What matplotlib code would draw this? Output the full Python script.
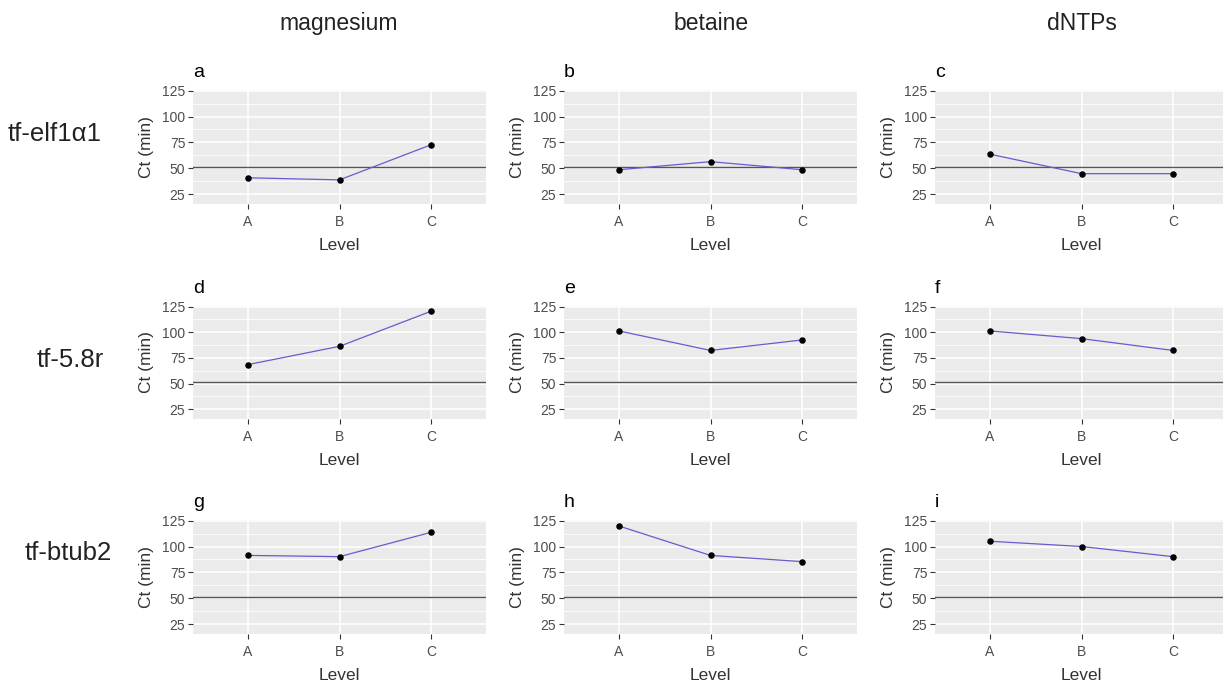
import matplotlib
matplotlib.use("Agg")
import matplotlib.pyplot as plt
from matplotlib import font_manager
from matplotlib.ticker import MultipleLocator

# ---------------- data ----------------
levels = ["A", "B", "C"]
factors = ["magnesium", "betaine", "dNTPs"]
genes = ["tf-elf1α1", "tf-5.8r", "tf-btub2"]
panel_letters = ["a", "b", "c", "d", "e", "f", "g", "h", "i"]

elf_magnesium = [40.8, 38.8, 72.7]
elf_betaine = [48.6, 56.4, 48.6]
elf_dntps = [63.6, 44.8, 44.8]

r58_magnesium = [68.5, 86.3, 120.5]
r58_betaine = [101.3, 82.3, 92.5]
r58_dntps = [101.3, 93.8, 82.3]

btub_magnesium = [91.4, 90.2, 113.7]
btub_betaine = [119.8, 91.4, 85.4]
btub_dntps = [105.1, 100.0, 90.2]

threshold = 51.5
y_ticks = [25, 50, 75, 100, 125]

grid_values = [
    [elf_magnesium, elf_betaine, elf_dntps],
    [r58_magnesium, r58_betaine, r58_dntps],
    [btub_magnesium, btub_betaine, btub_dntps],
]

# ---------------- fonts ----------------
available = {f.name for f in font_manager.fontManager.ttflist}
base_font = "Liberation Sans" if "Liberation Sans" in available else "DejaVu Sans"
plt.rcParams["font.family"] = [base_font, "DejaVu Sans"]

W, H = 1223, 684
fig = plt.figure(figsize=(W / 100, H / 100), dpi=100)
fig.patch.set_facecolor("white")

col_left = [193, 564, 935]
row_top = [90, 306, 520]
row_bot = [204, 419, 634]
pw = 293

line_color = "#6A5ACD"

for r in range(3):
    for c in range(3):
        left = col_left[c]
        top = row_top[r]
        bot = row_bot[r]
        ax = fig.add_axes([left / W, 1 - bot / H, pw / W, (bot - top) / H])
        ax.set_facecolor("#EBEBEB")
        for s in ax.spines.values():
            s.set_visible(False)
        xs = list(range(1, len(levels) + 1))
        ax.set_xlim(0.4, 3.6)
        ax.set_ylim(15.5, 125.6)
        ax.set_xticks(xs)
        ax.set_xticklabels(levels)
        ax.set_yticks(y_ticks)
        ax.yaxis.set_minor_locator(MultipleLocator(12.5))
        ax.grid(True, which="major", color="white", linewidth=1.1)
        ax.grid(True, which="minor", axis="y", color="white", linewidth=0.6)
        ax.set_axisbelow(True)
        ax.tick_params(which="major", length=3.5, width=0.8, color="#333333",
                       labelcolor="#4D4D4D", labelsize=10)
        ax.tick_params(axis="x", which="major", pad=4.5)
        ax.tick_params(axis="y", which="major", pad=2)
        ax.tick_params(which="minor", length=0)
        ax.axhline(threshold, color="#555555", linewidth=1.0, zorder=2)
        vals = grid_values[r][c]
        ax.plot(xs, vals, color=line_color, linewidth=0.9, zorder=3)
        ax.scatter(xs, vals, s=22, color="black", zorder=4, linewidths=0)
        ax.set_xlabel("Level", fontsize=12.5, color="#333333", labelpad=6.5)
        ax.set_ylabel("Ct (min)", fontsize=12.5, color="#333333", labelpad=6)
        ax.text(0.0, 1.08, panel_letters[r * 3 + c], transform=ax.transAxes,
                ha="left", va="bottom", fontsize=14, color="black")

# column titles
col_center = [339, 711, 1082]
for c, name in enumerate(factors):
    fig.text(col_center[c] / W, 1 - 30 / H, name, ha="center", va="baseline",
             fontsize=16.5, color="#222222")

# row titles
row_x = [55, 70, 68]
row_base = [141, 367, 560]
for r, name in enumerate(genes):
    fig.text(row_x[r] / W, 1 - row_base[r] / H, name, ha="center", va="baseline",
             fontsize=18.5, color="#222222")

fig.savefig("out.png", dpi=100, facecolor="white")
